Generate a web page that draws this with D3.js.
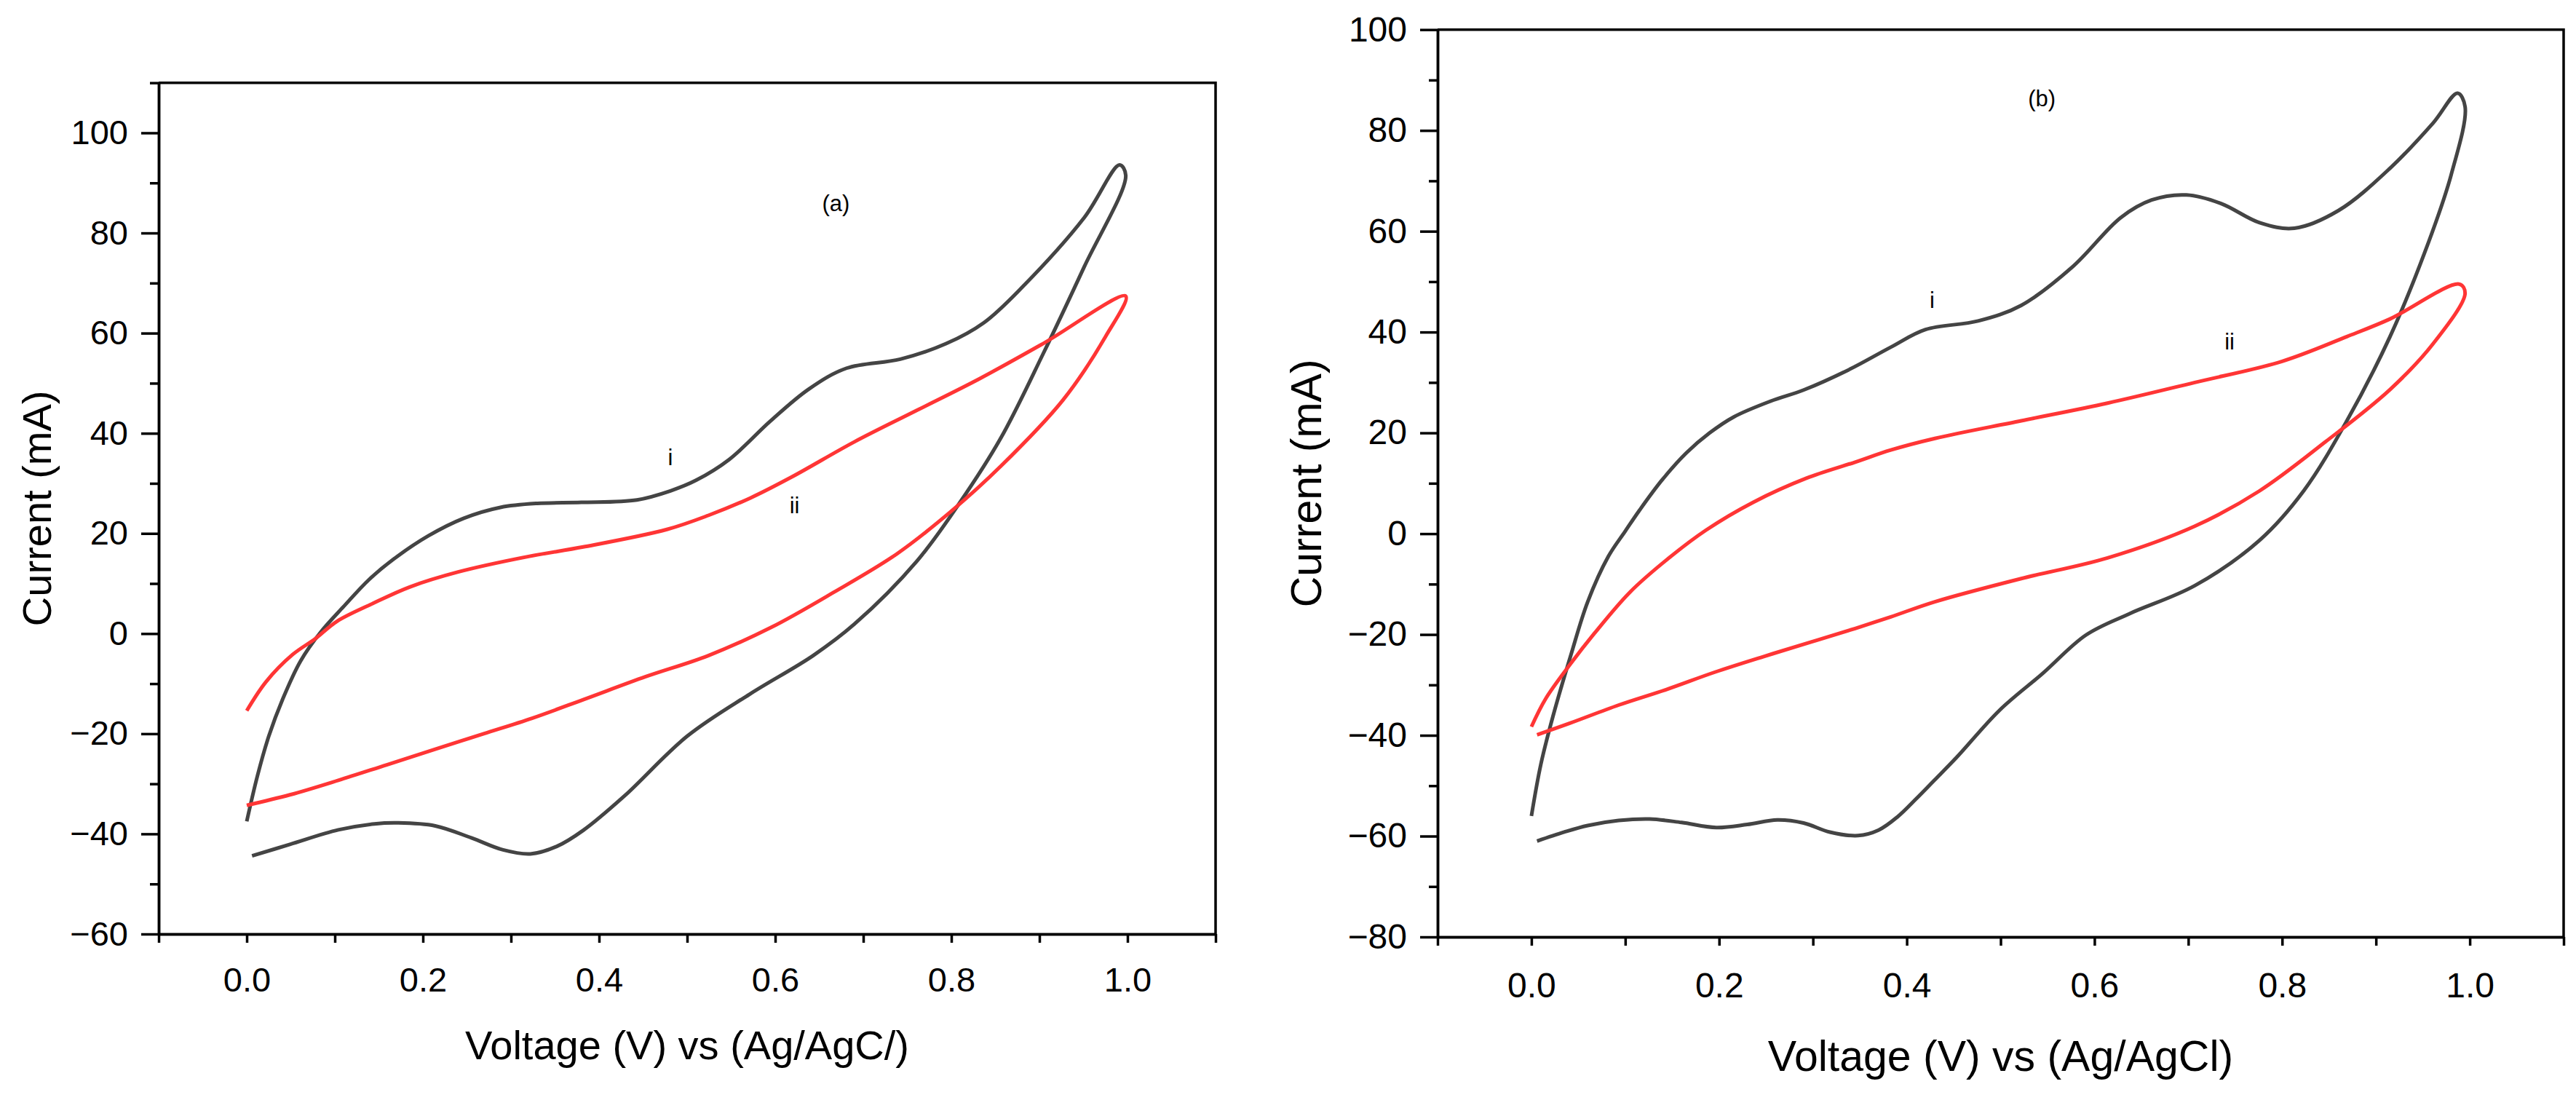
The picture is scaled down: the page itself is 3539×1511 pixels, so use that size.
<!DOCTYPE html>
<html>
<head>
<meta charset="utf-8">
<script src="https://cdn.jsdelivr.net/npm/d3@7"></script>
<style>
  body { margin: 0; background: #fff; }
  svg { display: block; font-family: "Liberation Sans", Arial, sans-serif; }
  .axis path, .axis line { stroke: #000; stroke-width: 3.5; }
  .axis text { fill: #000; }
</style>
</head>
<body>
<svg id="chart" width="3539" height="1511"></svg>
<script>
// ---- data: [voltage (V), current (mA)] ----
const aBlack = [[0,-37.5],[0.012,-28.5],[0.025,-20.5],[0.041,-13],[0.061,-5.5],[0.084,0.3],[0.11,5.4],
  [0.139,10.8],[0.167,14.9],[0.206,19.5],[0.246,23],[0.288,25.2],[0.33,26],[0.38,26.2],[0.443,26.7],
  [0.481,28.5],[0.51,30.6],[0.548,34.8],[0.595,42.5],[0.638,48.8],[0.681,53],[0.742,54.8],[0.794,57.9],
  [0.837,62.1],[0.88,69.1],[0.951,83.1],[0.991,93.6],[0.998,91.5],[0.951,73.3],[0.904,55.8],[0.856,39],
  [0.809,26],[0.761,14.5],[0.69,1.9],[0.643,-4.4],[0.571,-12.1],[0.5,-20.5],[0.429,-32.4],[0.382,-39.3],
  [0.352,-42.5],[0.322,-44],[0.291,-43.2],[0.255,-40.8],[0.214,-38.4],[0.172,-37.8],[0.145,-38],
  [0.104,-39.2],[0.049,-42.1],[0.006,-44.4]];
const aRed = [[0,-15.4],[0.022,-9.6],[0.052,-4.2],[0.078,-1],[0.102,2.4],[0.143,6],[0.185,9.3],
  [0.24,12.3],[0.32,15.4],[0.382,17.3],[0.477,20.8],[0.524,23.6],[0.572,27.1],[0.619,31.3],[0.69,38.3],
  [0.761,44.6],[0.832,50.9],[0.904,57.9],[0.998,67.4],[0.975,59.3],[0.927,46.7],[0.856,33.4],[0.799,24.3],
  [0.738,15.9],[0.666,8.2],[0.595,1.2],[0.524,-4.4],[0.453,-8.6],[0.382,-13.2],[0.324,-16.9],
  [0.269,-20],[0.214,-23.1],[0.159,-26.2],[0.104,-29.3],[0.049,-32.2],[0,-34.3]];
const bBlack = [[0,-56],[0.01,-45.8],[0.023,-36.2],[0.042,-24.1],[0.06,-13.5],[0.082,-4.5],[0.1,0.5],
  [0.115,4.6],[0.139,10.6],[0.165,16],[0.19,20],[0.216,23.2],[0.255,26.3],[0.29,28.5],[0.339,32.6],
  [0.383,37],[0.42,40.5],[0.476,42.2],[0.522,45.3],[0.577,53],[0.628,62.7],[0.661,66.2],[0.698,67.2],
  [0.735,65.5],[0.776,61.7],[0.813,60.6],[0.86,64.1],[0.915,72.5],[0.961,81.5],[0.987,87.4],[0.995,84.7],
  [0.98,71.1],[0.952,55.8],[0.915,39.1],[0.869,22.4],[0.823,8.5],[0.776,-1.3],[0.707,-10.3],[0.637,-15.9],
  [0.591,-20.1],[0.545,-27.7],[0.499,-35],[0.453,-44.4],[0.43,-48.8],[0.41,-52.6],[0.39,-56.2],
  [0.37,-58.8],[0.348,-59.9],[0.318,-59.2],[0.29,-57.4],[0.262,-56.8],[0.23,-57.7],[0.197,-58.3],
  [0.16,-57.3],[0.126,-56.6],[0.093,-56.9],[0.06,-57.9],[0.035,-59.2],[0.006,-61]];
const bRed = [[0,-38.3],[0.015,-32.8],[0.041,-26],[0.067,-19.8],[0.105,-11.6],[0.144,-5.2],[0.186,0.7],
  [0.236,6.2],[0.293,11],[0.345,14.2],[0.383,16.6],[0.43,18.9],[0.522,22.4],[0.614,25.9],[0.707,30],
  [0.8,34.2],[0.869,39.1],[0.915,42.6],[0.989,49.5],[0.995,47.7],[0.961,37.7],[0.915,28.6],[0.846,18.2],
  [0.776,8.5],[0.707,1.5],[0.614,-4.8],[0.522,-8.9],[0.43,-13.5],[0.383,-16.5],[0.345,-18.8],
  [0.298,-21.5],[0.247,-24.4],[0.195,-27.5],[0.144,-30.9],[0.093,-34],[0.041,-37.6],[0.006,-39.9]];

// tick values
const xMajor = [0, 0.2, 0.4, 0.6, 0.8, 1.0];
const xMinor = [-0.1, 0.1, 0.3, 0.5, 0.7, 0.9, 1.1];
const aYMajor = [-60, -40, -20, 0, 20, 40, 60, 80, 100];
const aYMinor = [-50, -30, -10, 10, 30, 50, 70, 90, 110];
const bYMajor = [-80, -60, -40, -20, 0, 20, 40, 60, 80, 100];
const bYMinor = [-70, -50, -30, -10, 10, 30, 50, 70, 90];

// annotations: [text, voltage, current]
const aNotes = [["(a)", 0.669, 86], ["i", 0.481, 35.2], ["ii", 0.622, 25.6]];
const bNotes = [["(b)", 0.544, 86.3], ["i", 0.427, 46.4], ["ii", 0.744, 38.1]];

const xTitleA = "Voltage (V) vs (Ag/AgC/)";
const xTitleB = "Voltage (V) vs (Ag/AgCl)";
const yTitle = "Current (mA)";

const panels = [
  { left: 218, right: 1670, top: 113.7, bottom: 1283, yDomain: [-60, 110],
    yMajor: aYMajor, yMinor: aYMinor, black: aBlack, red: aRed, notes: aNotes,
    xTitle: xTitleA, xTitleY: 1455, yTitleX: 70, tickPad: 34, tickFont: 47, titleFont: 56 },
  { left: 1975, right: 3522, top: 40.7, bottom: 1287, yDomain: [-80, 100],
    yMajor: bYMajor, yMinor: bYMinor, black: bBlack, red: bRed, notes: bNotes,
    xTitle: xTitleB, xTitleY: 1471, yTitleX: 1815, tickPad: 37, tickFont: 48, titleFont: 59 }
];

const svg = d3.select('#chart');
svg.append('rect').attr('width', 3539).attr('height', 1511).attr('fill', '#fff');

panels.forEach(p => {
  const x = d3.scaleLinear().domain([-0.1, 1.1]).range([p.left, p.right]);
  const y = d3.scaleLinear().domain(p.yDomain).range([p.bottom, p.top]);
  const g = svg.append('g');

  // frame: top and right borders
  g.append('path')
    .attr('d', `M${p.left},${p.top}H${p.right}V${p.bottom}`)
    .attr('fill', 'none').attr('stroke', '#000').attr('stroke-width', 3.5);

  // y axis
  g.append('g').attr('class', 'axis')
    .attr('transform', `translate(${p.left},0)`)
    .call(d3.axisLeft(y).tickValues(p.yMinor).tickSize(12).tickFormat('').tickSizeOuter(0));
  g.append('g').attr('class', 'axis')
    .attr('transform', `translate(${p.left},0)`)
    .call(d3.axisLeft(y).tickValues(p.yMajor).tickSize(24).tickPadding(18)
      .tickFormat(d3.format('d')).tickSizeOuter(0))
    .selectAll('text').attr('font-size', p.tickFont);

  // x axis
  g.append('g').attr('class', 'axis')
    .attr('transform', `translate(0,${p.bottom})`)
    .call(d3.axisBottom(x).tickValues(xMinor).tickSize(12).tickFormat('').tickSizeOuter(0));
  g.append('g').attr('class', 'axis')
    .attr('transform', `translate(0,${p.bottom})`)
    .call(d3.axisBottom(x).tickValues(xMajor).tickSize(12).tickPadding(p.tickPad)
      .tickFormat(d3.format('.1f')).tickSizeOuter(0))
    .selectAll('text').attr('font-size', p.tickFont);

  // curves
  const line = d3.line()
    .x(d => x(d[0])).y(d => y(d[1]))
    .curve(d3.curveCatmullRom.alpha(0.5));
  g.append('path').datum(p.black)
    .attr('d', line).attr('fill', 'none')
    .attr('stroke', '#444').attr('stroke-width', 5).attr('stroke-linejoin', 'round');
  g.append('path').datum(p.red)
    .attr('d', line).attr('fill', 'none')
    .attr('stroke', '#ff3535').attr('stroke-width', 5).attr('stroke-linejoin', 'round');

  // annotations
  g.selectAll('text.note').data(p.notes).join('text')
    .attr('class', 'note')
    .attr('x', d => x(d[1])).attr('y', d => y(d[2]))
    .attr('dy', '0.35em')
    .attr('text-anchor', 'middle')
    .attr('font-size', 31)
    .text(d => d[0]);

  // axis titles
  g.append('text')
    .attr('x', (p.left + p.right) / 2).attr('y', p.xTitleY)
    .attr('text-anchor', 'middle').attr('font-size', p.titleFont)
    .text(p.xTitle);
  g.append('text')
    .attr('transform', `translate(${p.yTitleX},${(p.top + p.bottom) / 2}) rotate(-90)`)
    .attr('text-anchor', 'middle').attr('font-size', p.titleFont)
    .text(yTitle);
});
</script>
</body>
</html>
